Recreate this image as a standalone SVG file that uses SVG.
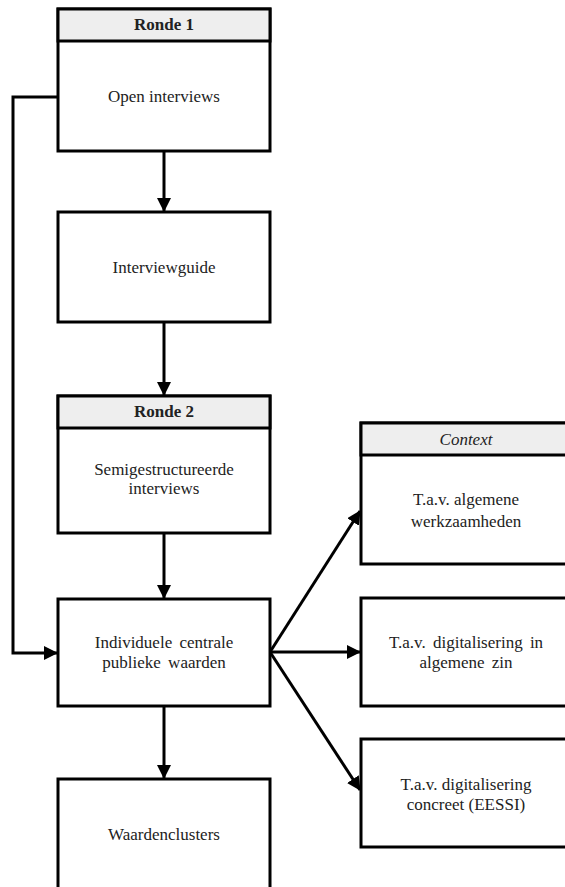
<svg xmlns="http://www.w3.org/2000/svg" width="565" height="887" viewBox="0 0 565 887">
<style>
.box{fill:#fff;stroke:#000;stroke-width:3}
.hdr{fill:#eeeeee;stroke:#000;stroke-width:3}
.t{font-family:"Liberation Serif","Times New Roman",serif;font-size:17px;fill:#222;text-anchor:middle}
.b{font-weight:bold}
.i{font-style:italic}
.c{fill:none;stroke:#000;stroke-width:3}
</style>
<defs>
<marker id="ah" markerUnits="userSpaceOnUse" markerWidth="14" markerHeight="14" refX="13" refY="7" orient="auto">
<path d="M0,0 L14,7 L0,14 z" fill="#000"/>
</marker>
</defs>
<rect width="565" height="887" fill="#fff"/>
<g id="connectors">
<line class="c" x1="164" y1="151" x2="164" y2="211" marker-end="url(#ah)"/>
<line class="c" x1="164" y1="322" x2="164" y2="395" marker-end="url(#ah)"/>
<line class="c" x1="164" y1="533" x2="164" y2="598" marker-end="url(#ah)"/>
<line class="c" x1="164" y1="706" x2="164" y2="778" marker-end="url(#ah)"/>
<polyline class="c" points="58,97 13,97 13,653 57,653" marker-end="url(#ah)"/>
<line class="c" x1="270" y1="652" x2="360" y2="511" marker-end="url(#ah)"/>
<line class="c" x1="270" y1="652" x2="360" y2="652" marker-end="url(#ah)"/>
<line class="c" x1="270" y1="652" x2="360" y2="790" marker-end="url(#ah)"/>
</g>
<g id="ronde1">
<rect class="box" x="58" y="9" width="212" height="142"/>
<rect class="hdr" x="58" y="9" width="212" height="32"/>
<text class="t b" x="164" y="30">Ronde 1</text>
<text class="t" x="164" y="102">Open interviews</text>
</g>
<g id="interviewguide">
<rect class="box" x="58" y="212" width="212" height="110"/>
<text class="t" x="164" y="273">Interviewguide</text>
</g>
<g id="ronde2">
<rect class="box" x="58" y="396" width="212" height="137"/>
<rect class="hdr" x="58" y="396" width="212" height="32"/>
<text class="t b" x="164" y="417">Ronde 2</text>
<text class="t" x="164" y="475">Semigestructureerde</text>
<text class="t" x="164" y="494">interviews</text>
</g>
<g id="individuele">
<rect class="box" x="58" y="599" width="212" height="107"/>
<text class="t" x="164" y="648" word-spacing="3">Individuele centrale</text>
<text class="t" x="164" y="668" word-spacing="3">publieke waarden</text>
</g>
<g id="waardenclusters">
<rect class="box" x="58" y="779" width="212" height="130"/>
<text class="t" x="164" y="840">Waardenclusters</text>
</g>
<g id="context1">
<rect class="box" x="361" y="423" width="211" height="141"/>
<rect class="hdr" x="361" y="423" width="211" height="32"/>
<text class="t i" x="466" y="445">Context</text>
<text class="t" x="466" y="505">T.a.v. algemene</text>
<text class="t" x="466" y="527">werkzaamheden</text>
</g>
<g id="context2">
<rect class="box" x="361" y="598" width="211" height="108"/>
<text class="t" x="466" y="648" word-spacing="3">T.a.v. digitalisering in</text>
<text class="t" x="466" y="668" word-spacing="3">algemene zin</text>
</g>
<g id="context3">
<rect class="box" x="361" y="739" width="211" height="108"/>
<text class="t" x="466" y="790">T.a.v. digitalisering</text>
<text class="t" x="466" y="810">concreet (EESSI)</text>
</g>
</svg>
